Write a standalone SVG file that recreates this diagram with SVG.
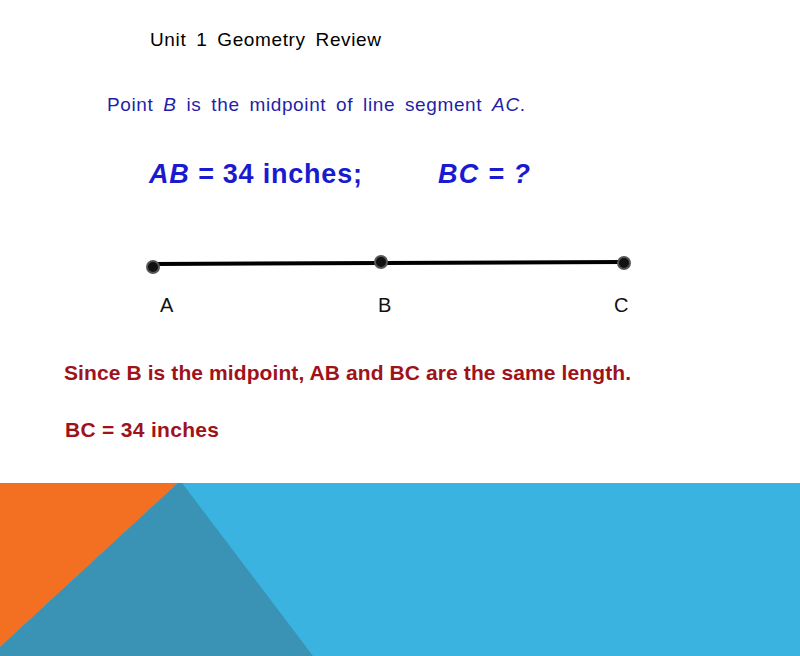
<svg xmlns="http://www.w3.org/2000/svg" width="800" height="656" viewBox="0 0 800 656">
<style>
.t{font-family:"Liberation Sans",Arial,sans-serif}
.blue{fill:#1f1fa8}
.big{fill:#1a1ad0;font-size:27px;font-weight:bold}
.lbl{font-size:20px;fill:#111}
.red{fill:#a0121a;font-size:21px;font-weight:bold}
.pt{fill:#111;stroke:#555;stroke-width:2}
</style>
<rect width="800" height="656" fill="#fff"/>
<g id="background">
<rect x="0" y="483" width="800" height="173" fill="#3bb3e0"/>
<polygon points="0,483 178,483 0,647" fill="#f36f21"/>
<polygon points="178,483 182,483 313,656 0,656 0,647" fill="#3a93b4"/>
</g>
<g id="title"><text class="t" x="150" y="46" font-size="19" fill="#000" word-spacing="4" textLength="231" lengthAdjust="spacing">Unit 1 Geometry Review</text></g>
<g id="statement"><text class="t blue" x="107" y="111" font-size="19" word-spacing="4" textLength="418" lengthAdjust="spacing">Point <tspan font-style="italic">B</tspan> is the midpoint of line segment <tspan font-style="italic">AC</tspan>.</text></g>
<g id="given"><text class="t big" x="149" y="183" textLength="213" lengthAdjust="spacing"><tspan font-style="italic">AB = </tspan>34 inches;</text></g>
<g id="question"><text class="t big" x="438" y="183" font-style="italic" textLength="92" lengthAdjust="spacing">BC = ?</text></g>
<g id="connectors">
<line x1="153" y1="264" x2="624" y2="262" stroke="#000" stroke-width="4"/>
</g>
<g id="pointA"><circle class="pt" cx="153" cy="267" r="6"/><text class="t lbl" x="160" y="312">A</text></g>
<g id="pointB"><circle class="pt" cx="381" cy="262" r="6"/><text class="t lbl" x="378" y="312">B</text></g>
<g id="pointC"><circle class="pt" cx="624" cy="263" r="6"/><text class="t lbl" x="614" y="312">C</text></g>
<g id="explanation"><text class="t red" x="64" y="380" textLength="567" lengthAdjust="spacing">Since B is the midpoint, AB and BC are the same length.</text></g>
<g id="answer"><text class="t red" x="65" y="437" textLength="154" lengthAdjust="spacing">BC = 34 inches</text></g>
</svg>
